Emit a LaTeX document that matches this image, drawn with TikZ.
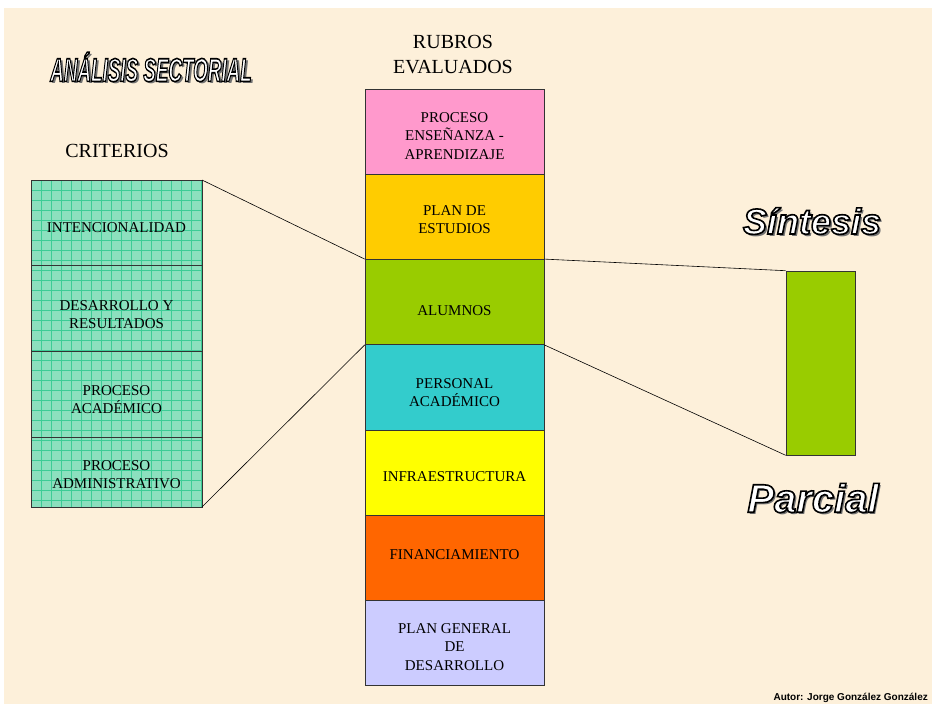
\documentclass[tikz,border=0pt]{standalone}
\usepackage{fontspec}
\usepackage{graphicx}
\setmainfont{Liberation Serif}
\newfontfamily\sansf{Liberation Sans}
\usetikzlibrary{calc}
\definecolor{bg}{RGB}{253,240,218}
\definecolor{gridfill}{RGB}{140,224,190}
\definecolor{gridline}{RGB}{60,204,150}
\definecolor{cpink}{RGB}{255,153,204}
\definecolor{cgold}{RGB}{255,204,0}
\definecolor{cgreen}{RGB}{153,204,0}
\definecolor{cteal}{RGB}{51,204,204}
\definecolor{cyellow}{RGB}{255,255,0}
\definecolor{corange}{RGB}{255,102,0}
\definecolor{clav}{RGB}{204,204,255}
\tikzset{
  midbox/.style={draw=black!80, line width=0.6pt, minimum width=179pt, minimum height=85.2pt, inner sep=0pt},
  boxtext/.style={inner sep=0pt, align=center, font=\fontsize{15}{18.5}\selectfont},
  heading/.style={align=center, font=\fontsize{20}{25}\selectfont},
  link/.style={draw=black, line width=0.6pt},
}
% outlined white text with a grey shadow
\newcommand{\outl}[1]{\special{pdf:literal direct 0 0 0 RG 1.6 w 2 Tr}#1\special{pdf:literal direct 0 Tr}}
\newcommand{\fancytext}[4]{%
  \node[text=black!55] at ($(#2)+(2.4,2.4)$) {#3#4};
  \node[text=white] (#1) at (#2) {#3\outl{#4}};
}
\begin{document}
\begin{tikzpicture}[x=1pt,y=-1pt]
\useasboundingbox (0,0) rectangle (932,704);
\fill[bg] (4,8) rectangle (932,704);

% title
\fancytext{title}{151,67}{\fontsize{33}{33}\sansf\bfseries\itshape}{\scalebox{0.57}[1]{ANÁLISIS SECTORIAL}}

% headings
\node[heading] (rubros) at (453,55) {RUBROS\\EVALUADOS};
\node[heading] (criterios) at (117,151) {CRITERIOS};

% left criteria box
\fill[gridfill] (31,180) rectangle (202,507);
\foreach \gx in {41,51,...,201} \draw[gridline, line width=0.5pt] (\gx,180) -- (\gx,507);
\foreach \gy in {190,200,...,500} \draw[gridline, line width=0.5pt] (31,\gy) -- (202,\gy);
\draw[black!80, line width=0.6pt] (31,180) rectangle (202,507);
\draw[black!80, line width=0.6pt] (31,265) -- (202,265) (31,351) -- (202,351) (31,437) -- (202,437);
\coordinate (lefttr) at (202,180);
\coordinate (leftbr) at (202,507);
\node[boxtext] (c1) at (116.5,228) {INTENCIONALIDAD};
\node[boxtext] (c2) at (116.5,314.5) {DESARROLLO Y\\RESULTADOS};
\node[boxtext] (c3) at (116.5,399.5) {PROCESO\\ACADÉMICO};
\node[boxtext] (c4) at (116.5,474.5) {PROCESO\\ADMINISTRATIVO};

% middle column
\node[midbox, fill=cpink]   (r1) at (454.5,131.6) {};
\node[midbox, fill=cgold]   (r2) at (454.5,216.8) {};
\node[midbox, fill=cgreen]  (r3) at (454.5,302.0) {};
\node[midbox, fill=cteal]   (r4) at (454.5,387.2) {};
\node[midbox, fill=cyellow] (r5) at (454.5,472.4) {};
\node[midbox, fill=corange] (r6) at (454.5,557.6) {};
\node[midbox, fill=clav]    (r7) at (454.5,642.8) {};
\node[boxtext] (t1) at ($(r1)+(0,4.5)$) {PROCESO\\ENSEÑANZA -\\APRENDIZAJE};
\node[boxtext] (t2) at ($(r2)+(0,3)$) {PLAN DE\\ESTUDIOS};
\node[boxtext] (t3) at ($(r3)+(0,8.5)$) {ALUMNOS};
\node[boxtext] (t4) at ($(r4)+(0,5.5)$) {PERSONAL\\ACADÉMICO};
\node[boxtext] (t5) at ($(r5)+(0,4)$) {INFRAESTRUCTURA};
\node[boxtext] (t6) at ($(r6)+(0,-3)$) {FINANCIAMIENTO};
\node[boxtext] (t7) at ($(r7)+(0,4)$) {PLAN GENERAL\\DE\\DESARROLLO};

% right green box
\node[draw=black!80, line width=0.6pt, fill=cgreen, minimum width=69pt, minimum height=184pt, inner sep=0pt] (syn) at (820.5,363) {};

% connectors
\draw[link] (lefttr) -- (r3.north west);
\draw[link] (leftbr) -- (r3.south west);
\draw[link] (r3.north east) -- (syn.north west);
\draw[link] (r3.south east) -- (syn.south west);

% fancy words
\fancytext{sintesis}{812,221}{\fontsize{36}{36}\sansf\bfseries\itshape}{Síntesis}
\fancytext{parcial}{813,498}{\fontsize{40}{40}\sansf\bfseries\itshape}{Parcial}

% author
\node[anchor=east, font=\fontsize{10}{12}\sansf\bfseries, inner sep=0pt] (autor) at (928,698) {Autor: Jorge González González};
\end{tikzpicture}
\end{document}
